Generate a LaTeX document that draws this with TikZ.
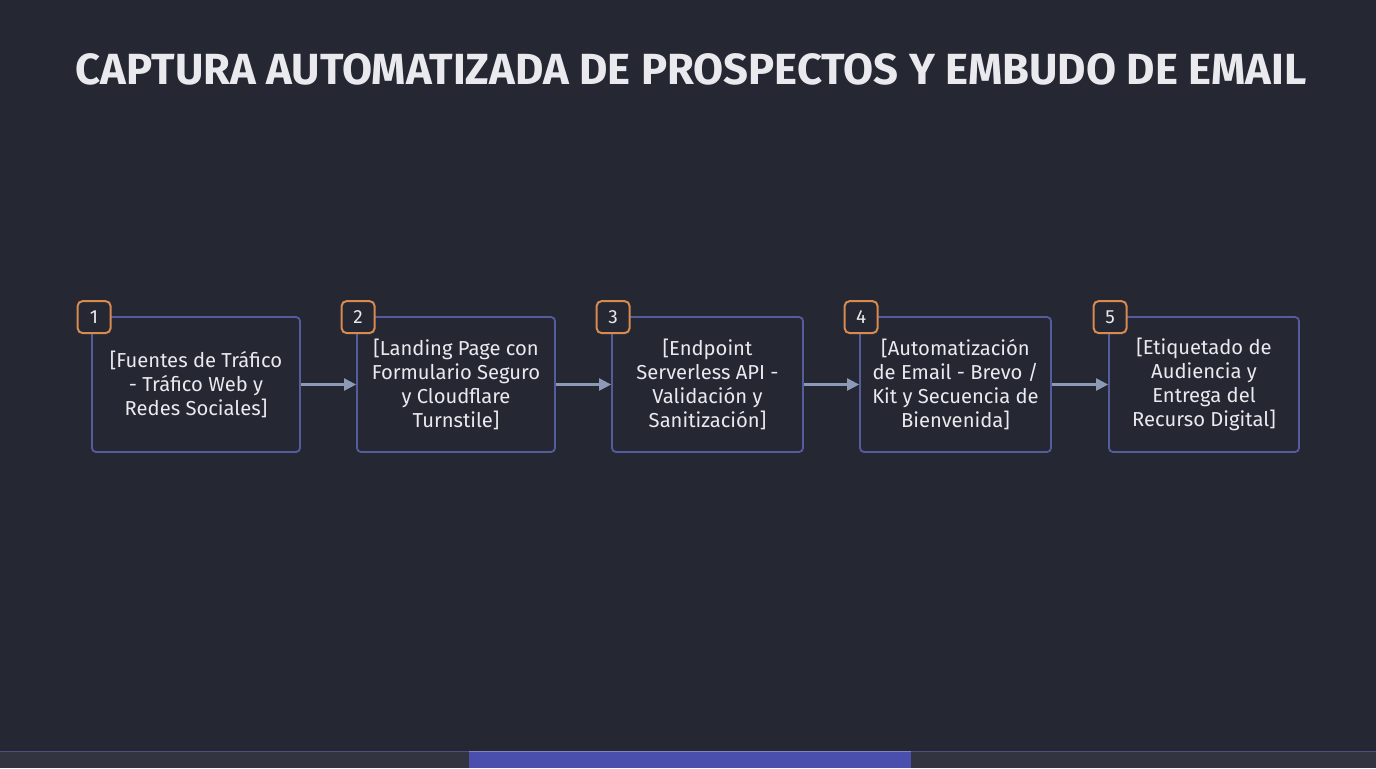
\documentclass[tikz,border=0pt]{standalone}
\usepackage{fontspec}
\setmainfont{Fira Sans}
\usetikzlibrary{arrows.meta}
\definecolor{bg}{HTML}{252833}
\definecolor{boxline}{HTML}{545C9C}
\definecolor{badgeline}{HTML}{D98A4E}
\definecolor{arrowc}{HTML}{8C9AB8}
\definecolor{txt}{HTML}{EAEAEE}
\definecolor{barbg}{HTML}{32353F}
\definecolor{barline}{HTML}{4C5180}
\definecolor{barblue}{HTML}{4A4FAE}
\tikzset{
  stepbox/.style={draw=boxline, line width=0.9pt, rounded corners=2pt, fill=bg,
    minimum height=67.5pt, align=center, text=txt, font=\fontsize{10.1}{12}\selectfont, inner sep=0pt},
  badge/.style={draw=badgeline, line width=1pt, rounded corners=2.5pt, fill=bg,
    minimum width=16.5pt, minimum height=16pt, inner sep=0pt, text=txt, font=\fontsize{9.5}{11}\selectfont},
  flow/.style={draw=arrowc, line width=1.1pt, -{Triangle[length=6pt,width=6pt]}}
}
\begin{document}
\begin{tikzpicture}[x=0.5pt,y=-0.5pt]
\useasboundingbox (0,0) rectangle (1376,768);
\fill[bg] (0,0) rectangle (1376,768);
% bottom bar
\fill[barbg] (0,751) rectangle (1376,768);
\draw[barline, line width=0.8pt] (0,751.5) -- (1376,751.5);
\fill[barblue] (469,751) rectangle (911,768);
\draw[barblue!70!white, line width=0.6pt] (469,751.5) -- (911,751.5);
% title
\node[text=txt, font=\fontsize{21.8}{26}\bfseries\selectfont] (title) at (691,69)
  {CAPTURA AUTOMATIZADA DE PROSPECTOS Y EMBUDO DE EMAIL};
% boxes
\node[stepbox, minimum width=104pt] (b1) at (196,384.5) {[Fuentes de Tráfico\\- Tráfico Web y\\Redes Sociales]};
\node[stepbox, minimum width=99pt] (b2) at (456,384.5) {[Landing Page con\\Formulario Seguro\\y Cloudflare\\Turnstile]};
\node[stepbox, minimum width=95.5pt] (b3) at (707.5,384.5) {[Endpoint\\Serverless API -\\Validación y\\Sanitización]};
\node[stepbox, minimum width=95.5pt] (b4) at (955.5,384.5) {[Automatización\\de Email - Brevo /\\Kit y Secuencia de\\Bienvenida]};
\node[stepbox, minimum width=95pt] (b5) at (1204,384.5) {[Etiquetado de\\Audiencia y\\Entrega del\\Recurso Digital]};
% arrows
\draw[flow] (b1.east) -- (b2.west);
\draw[flow] (b2.east) -- (b3.west);
\draw[flow] (b3.east) -- (b4.west);
\draw[flow] (b4.east) -- (b5.west);
% badges
\node[badge] (n1) at ([xshift=1.5pt,yshift=-0.5pt]b1.north west) {1};
\node[badge] (n2) at ([xshift=1pt,yshift=-0.5pt]b2.north west) {2};
\node[badge] (n3) at ([xshift=1pt,yshift=-0.5pt]b3.north west) {3};
\node[badge] (n4) at ([xshift=1pt,yshift=-0.5pt]b4.north west) {4};
\node[badge] (n5) at ([xshift=1pt,yshift=-0.5pt]b5.north west) {5};
\end{tikzpicture}
\end{document}
